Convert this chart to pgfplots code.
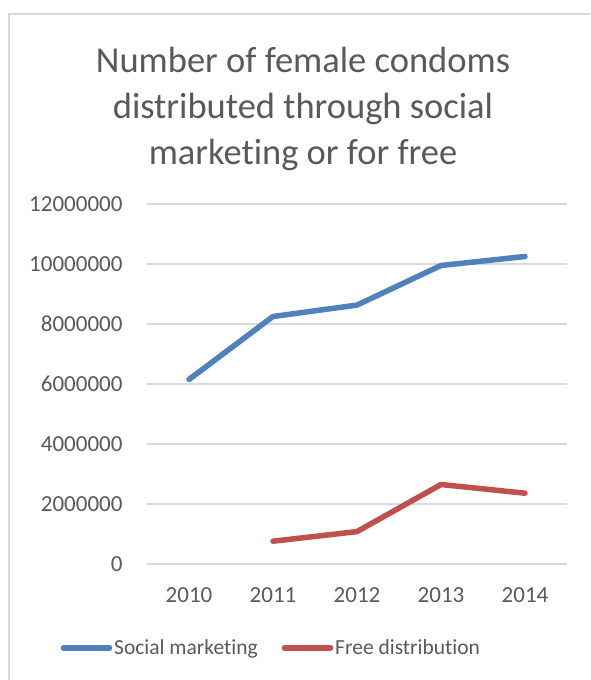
\documentclass[border=0pt]{standalone}
\usepackage{fontspec}
\setmainfont[Ligatures={NoCommon}]{Carlito}
\usepackage{pgfplots}
\pgfplotsset{compat=1.18}
\definecolor{txt}{HTML}{595959}
\definecolor{gridc}{HTML}{D9D9D9}
\definecolor{smblue}{HTML}{4F81BD}
\definecolor{fdred}{HTML}{C0504D}
\begin{document}
\begin{tikzpicture}[x=1pt,y=1pt]
\useasboundingbox (0,0) rectangle (590,680);
\begin{scope}
\clip (0,0) rectangle (590,680);
\draw[gridc, line width=1.5pt] (9,-5) -- (9,666) -- (600,666);
\end{scope}
\begin{scope}[every node/.style={anchor=base, font=\fontsize{36.5}{44}\selectfont, text=txt}]
\node at (303,607) {Number of female condoms};
\node at (303,561) {distributed through social};
\node at (303,515) {marketing or for free};
\end{scope}
\begin{axis}[
  at={(147pt,116pt)}, anchor=south west,
  scale only axis, width=420pt, height=360pt,
  xmin=-0.5, xmax=4.5, ymin=0, ymax=12000000,
  scaled y ticks=false,
  xtick={0,1,2,3,4},
  xticklabels={2010,2011,2012,2013,2014},
  ytick={0,2000000,4000000,6000000,8000000,10000000,12000000},
  yticklabels={0,2000000,4000000,6000000,8000000,10000000,12000000},
  major tick length=0pt,
  axis line style={draw=none},
  ymajorgrids,
  grid style={gridc, line width=1.5pt},
  tick label style={font=\fontsize{23}{28}\selectfont, text=txt},
  yticklabel style={xshift=-21pt},
  xticklabel style={yshift=-20pt},
  legend columns=2,
  legend style={draw=none, fill=none, at={(0.296,-0.233)}, anchor=center,
    font=\fontsize{21.5}{26}\selectfont, text=txt,
    /tikz/every even column/.append style={column sep=22pt}},
  legend image code/.code={\draw[#1, line cap=round] (0pt,0pt) -- (46pt,0pt);},
]
\addplot[smblue, line width=5.5pt, line cap=round, line join=round] coordinates {
  (0,6150000) (1,8250000) (2,8630000) (3,9950000) (4,10250000)};
\addlegendentry{Social marketing}
\addplot[fdred, line width=5.5pt, line cap=round, line join=round] coordinates {
  (1,760000) (2,1080000) (3,2650000) (4,2360000)};
\addlegendentry{Free distribution}
\end{axis}
\end{tikzpicture}
\end{document}
